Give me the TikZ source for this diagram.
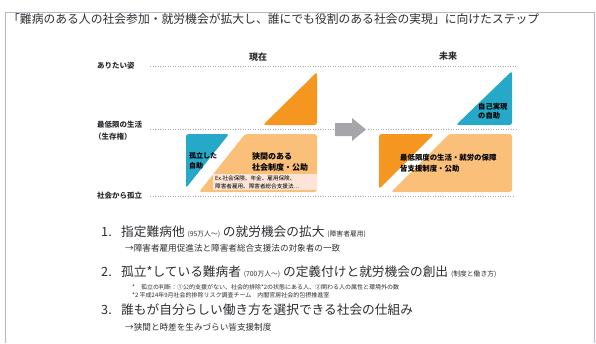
\documentclass[tikz,border=0pt]{standalone}
\usepackage{fontspec}
\setmainfont{Noto Sans CJK JP}
\definecolor{blueC}{RGB}{38,168,200}
\definecolor{orangeD}{RGB}{244,150,32}
\definecolor{orangeL}{RGB}{250,192,122}
\definecolor{exbox}{RGB}{252,228,214}
\definecolor{arrowgray}{RGB}{166,166,170}
\definecolor{dotgray}{RGB}{170,172,185}
\definecolor{txt}{RGB}{45,45,50}
\definecolor{framec}{RGB}{185,185,195}
\tikzset{
  lvl/.style={draw=dotgray, line width=0.9pt, dash pattern=on 0.9pt off 1.6pt},
  lbl/.style={anchor=west, inner sep=0pt, text=txt, font=\fontsize{7.5}{9}\selectfont\bfseries},
  hdr/.style={inner sep=0pt, text=txt, font=\fontsize{9}{11}\selectfont\bfseries},
  boxtxt/.style={anchor=west, inner sep=0pt, text=black, align=left},
  shp/.style={rounded corners=2.5pt},
  big/.style={anchor=west, inner sep=0pt, text=txt, font=\fontsize{12.7}{15}\selectfont},
  sub/.style={anchor=west, inner sep=0pt, text=txt, font=\fontsize{8.6}{10}\selectfont},
  note/.style={anchor=west, inner sep=0pt, text=txt, font=\fontsize{6}{7}\selectfont}
}
\newcommand{\sm}[1]{{\fontsize{6.8}{8}\selectfont #1}}
\begin{document}
\begin{tikzpicture}[x=1pt,y=-1pt]
\useasboundingbox (0,0) rectangle (596,343);
% frame
\draw[framec, line width=0.8pt] (5,343) -- (5,12) -- (594,12) -- (594,343);
% title
\node[anchor=west, inner sep=0pt, text=txt, font=\fontsize{11.8}{14}\selectfont] (title) at (8,19)
  {「難病のある人の社会参加・就労機会が拡大し、誰にでも役割のある社会の実現」に向けたステップ};
% headers
\node[hdr] (now) at (258,57) {現在};
\node[hdr] (fut) at (448,56) {未来};
% level labels
\node[lbl] (l1) at (97,66) {ありたい姿};
\node[lbl] (l2) at (97,125) {最低限の生活};
\node[lbl] (l2b) at (94,137) {（生存権）};
\node[lbl] (l3) at (97,196) {社会から孤立};
% dotted lines
\coordinate (d1a) at (150,66); \coordinate (d1b) at (517,66);
\coordinate (d2a) at (150,129); \coordinate (d2b) at (333,129);
\coordinate (d2c) at (368,129); \coordinate (d2d) at (517,129);
\coordinate (d3a) at (150,196); \coordinate (d3b) at (515,196);
\draw[lvl] (d1a) -- (d1b);
\draw[lvl] (d2a) -- (d2b);
\draw[lvl] (d2c) -- (d2d);
\draw[lvl] (d3a) -- (d3b);
% current shapes
\fill[orangeD, shp] (263,125) -- (317,72) -- (317,125) -- cycle;
\fill[blueC, shp] (186,134) -- (229,134) -- (186,188) -- cycle;
\fill[orangeL, shp] (245,134) -- (317,134) -- (317,192) -- (199,192) -- cycle;
\node[boxtxt, font=\fontsize{7}{10}\selectfont\bfseries] (iso) at (189,161) {孤立した\\自助};
\node[boxtxt, font=\fontsize{8}{11.5}\selectfont\bfseries] (gap) at (252,162) {狭間のある\\社会制度・公助};
\fill[exbox] (213,174) rectangle (317,190);
\node[boxtxt, font=\fontsize{5.6}{8}\selectfont] (ex) at (215,182) {Ex.社会保険、年金、雇用保険、\\障害者雇用、障害者総合支援法…};
% arrow
\fill[arrowgray] (335,123) -- (352,123) -- (352,118) -- (366,129.5) -- (352,141) -- (352,136) -- (335,136) -- cycle;
% future shapes
\fill[blueC, shp] (456,125) -- (512,71) -- (512,125) -- cycle;
\node[boxtxt, font=\fontsize{7.3}{9.5}\selectfont\bfseries] (self) at (478,111) {自己実現\\の自助};
\fill[orangeD, shp] (379,134) -- (434,134) -- (379,189) -- cycle;
\fill[orangeL, shp] (449,134) -- (512,134) -- (512,192) -- (391,192) -- cycle;
\node[boxtxt, font=\fontsize{7.4}{10.5}\selectfont\bfseries] (min) at (400,163) {最低限度の生活・就労の保障\\皆支援制度・公助};
% list
\node[big] (n1) at (101,232) {1.};
\node[big] (t1) at (121,232) {指定難病他 \sm{(95万人〜)} の就労機会の拡大 \sm{(障害者雇用)}};
\node[sub] (s1) at (125,248) {→障害者雇用促進法と障害者総合支援法の対象者の一致};
\node[big] (n2) at (101,272) {2.};
\node[big] (t2) at (121,272) {孤立*している難病者 \sm{(700万人〜)} の定義付けと就労機会の創出 \sm{(制度と働き方)}};
\node[note] (s2a) at (132,287) {*\quad 孤立の判断：①公的支援がない、社会的排除*2の状態にある人、②関わる人の属性と環境外の数};
\node[note] (s2b) at (132,295) {*2 平成24年9月社会的排除リスク調査チーム　内閣官房社会的包摂推進室};
\node[big] (n3) at (101,310) {3.};
\node[big] (t3) at (121,310) {誰もが自分らしい働き方を選択できる社会の仕組み};
\node[sub] (s3) at (125,327) {→狭間と時差を生みづらい皆支援制度};
\end{tikzpicture}
\end{document}
